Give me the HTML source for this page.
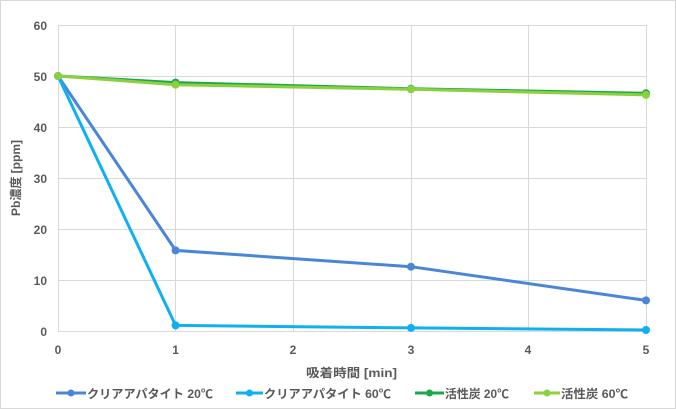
<!DOCTYPE html>
<html><head><meta charset="utf-8"><style>
html,body{margin:0;padding:0;background:#fff}
svg{display:block}
text{font-family:"Liberation Sans","Noto Sans CJK JP",sans-serif;fill:#595959;font-weight:bold;font-size:12px}
</style></head><body>
<svg width="676" height="409" viewBox="0 0 676 409">
<rect x="0.5" y="0.5" width="675" height="408" fill="#fff" stroke="#d9d9d9"/>
<g stroke="#d9d9d9" stroke-width="1">
<line x1="58" y1="25.5" x2="646" y2="25.5"/>
<line x1="58" y1="76.5" x2="646" y2="76.5"/>
<line x1="58" y1="127.5" x2="646" y2="127.5"/>
<line x1="58" y1="178.5" x2="646" y2="178.5"/>
<line x1="58" y1="229.5" x2="646" y2="229.5"/>
<line x1="58" y1="280.5" x2="646" y2="280.5"/>
<line x1="58.5" y1="25" x2="58.5" y2="331"/>
<line x1="175.5" y1="25" x2="175.5" y2="331"/>
<line x1="293.5" y1="25" x2="293.5" y2="331"/>
<line x1="411.5" y1="25" x2="411.5" y2="331"/>
<line x1="528.5" y1="25" x2="528.5" y2="331"/>
<line x1="646.5" y1="25" x2="646.5" y2="331"/>
<line x1="58" y1="331.5" x2="646" y2="331.5"/>
</g>
<g text-anchor="end">
<text x="47" y="30">60</text><text x="47" y="81">50</text><text x="47" y="132">40</text>
<text x="47" y="183">30</text><text x="47" y="234">20</text><text x="47" y="285">10</text><text x="47" y="336">0</text>
</g>
<g text-anchor="middle">
<text x="58" y="354">0</text><text x="175.6" y="354">1</text><text x="293" y="354">2</text>
<text x="411" y="354">3</text><text x="528" y="354">4</text><text x="646" y="354">5</text>
</g>
<text x="306" y="377" textLength="91" lengthAdjust="spacingAndGlyphs">吸着時間 [min]</text>
<text transform="translate(20,178) rotate(-90)" text-anchor="middle" font-size="11">Pb濃度 [ppm]</text>
<g fill="none" stroke-width="3">
<polyline stroke="#4a86d8" points="58,76 175.6,250.4 411,266.7 646,300.4"/>
<polyline stroke="#0fb0f0" points="58,76 175.6,325.4 411,327.9 646,330"/>
<polyline stroke="#1aa84a" points="58,76 175.6,82.6 411,88.8 646,93.3"/>
<polyline stroke="#8ccf3f" points="58,76 175.6,84.7 411,89.3 646,94.9"/>
</g>
<g fill="#4a86d8"><circle cx="58" cy="76" r="4"/><circle cx="175.6" cy="250.4" r="4"/><circle cx="411" cy="266.7" r="4"/><circle cx="646" cy="300.4" r="4"/></g>
<g fill="#0fb0f0"><circle cx="175.6" cy="325.4" r="4"/><circle cx="411" cy="327.9" r="4"/><circle cx="646" cy="330" r="4"/></g>
<g fill="#1aa84a"><circle cx="175.6" cy="82.6" r="4"/><circle cx="411" cy="88.8" r="4"/><circle cx="646" cy="93.3" r="4"/></g>
<g fill="#8ccf3f"><circle cx="58" cy="76" r="4"/><circle cx="175.6" cy="84.7" r="4"/><circle cx="411" cy="89.3" r="4"/><circle cx="646" cy="94.9" r="4"/></g>
<g stroke-width="3">
<line x1="56" y1="393" x2="86" y2="393" stroke="#4a86d8"/><circle cx="71" cy="393" r="3.5" fill="#4a86d8"/>
<line x1="236" y1="393" x2="263" y2="393" stroke="#0fb0f0"/><circle cx="249.5" cy="393" r="3.5" fill="#0fb0f0"/>
<line x1="415" y1="393" x2="444" y2="393" stroke="#1aa84a"/><circle cx="429.5" cy="393" r="3.5" fill="#1aa84a"/>
<line x1="534" y1="393" x2="560" y2="393" stroke="#8ccf3f"/><circle cx="547" cy="393" r="3.5" fill="#8ccf3f"/>
</g>
<text x="87" y="398" textLength="126" lengthAdjust="spacingAndGlyphs">クリアアパタイト 20℃</text>
<text x="264" y="398" textLength="127" lengthAdjust="spacingAndGlyphs">クリアアパタイト 60℃</text>
<text x="445" y="398" textLength="64" lengthAdjust="spacingAndGlyphs">活性炭 20℃</text>
<text x="561" y="398" textLength="67" lengthAdjust="spacingAndGlyphs">活性炭 60℃</text>
</svg>
</body></html>
